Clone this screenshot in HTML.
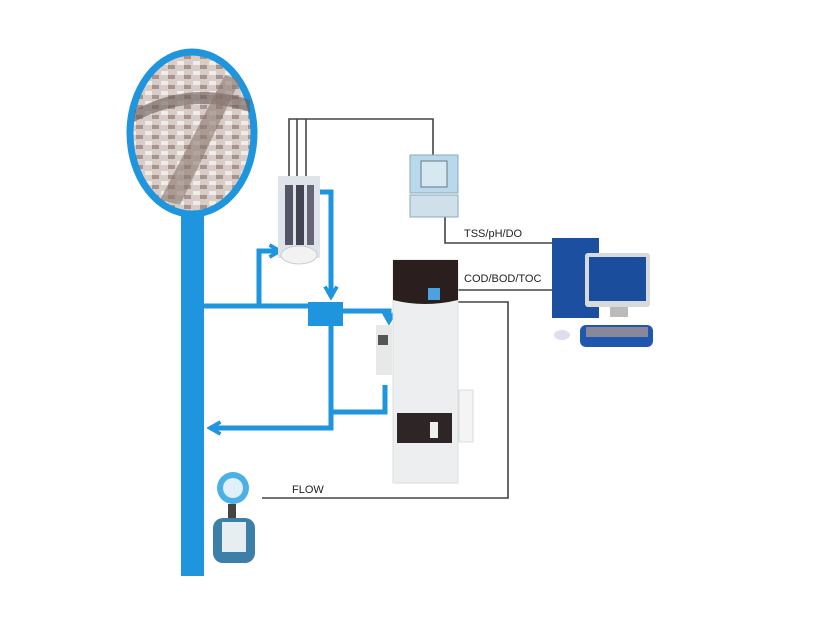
<!DOCTYPE html>
<html><head><style>
html,body{margin:0;padding:0;background:#fff;width:820px;height:636px;overflow:hidden}
svg{display:block}
text{font-family:"Liberation Sans",sans-serif;font-size:11px;fill:#222}
</style></head><body>
<svg width="820" height="636" viewBox="0 0 820 636" xmlns="http://www.w3.org/2000/svg">
<defs>
<pattern id="pl" width="16" height="10" patternUnits="userSpaceOnUse">
<rect width="16" height="10" fill="#d8ccc8"/><rect x="1" y="1" width="7" height="4" fill="#f0ecea"/><rect x="8" y="5" width="7" height="4" fill="#a8948c"/>
</pattern>
<marker id="ar" viewBox="0 0 10 10" refX="8" refY="5" markerWidth="3" markerHeight="3" orient="auto"><path d="M1,1 L8,5 L1,9" fill="none" stroke="#1e95dc" stroke-width="2.5"/></marker>
</defs>
<rect x="181" y="210" width="23" height="366" fill="#1e95dc"/>
<ellipse cx="192" cy="133" rx="62" ry="81" fill="url(#pl)" stroke="#1e95dc" stroke-width="7"/>
<path d="M135 110 Q190 80 250 100 L250 112 Q190 92 134 122Z" fill="#6a5a55" opacity=".6"/>
<path d="M160 200 L225 75 L240 80 L180 205Z" fill="#8a7870" opacity=".6"/>
<g fill="none" stroke="#1e95dc" stroke-width="5">
<path d="M204 306 H308"/>
<path d="M259 306 V251 H280" marker-end="url(#ar)"/>
<path d="M318 192 H331 V297" marker-end="url(#ar)"/>
<path d="M343 311 H389 V322" marker-end="url(#ar)"/>
<path d="M331 326 V428 H210" marker-end="url(#ar)"/>
<path d="M331 412 H385 V385"/>
</g>
<rect x="308" y="302" width="35" height="24" fill="#1e95dc"/>
<g fill="none" stroke="#444" stroke-width="1.6">
<path d="M289 176 V119 H433 V155"/>
<path d="M297 176 V119"/><path d="M306 176 V119"/>
<path d="M445 217 V243 H552"/>
<path d="M458 290 H552"/>
<path d="M458 302 H508 V498 H262"/>
</g>
<rect x="278" y="176" width="42" height="82" fill="#dfe4ea"/>
<rect x="285" y="185" width="8" height="60" fill="#556"/><rect x="296" y="185" width="8" height="60" fill="#445"/><rect x="307" y="185" width="7" height="60" fill="#667"/>
<ellipse cx="299" cy="255" rx="18" ry="9" fill="#f2f2f2" stroke="#ccc"/>
<rect x="410" y="155" width="48" height="38" fill="#b8d8ec" stroke="#8ab" />
<rect x="421" y="161" width="26" height="26" fill="#d8e8f0" stroke="#678"/>
<rect x="410" y="195" width="48" height="22" fill="#cfe0ea" stroke="#8ab"/>
<rect x="393" y="260" width="65" height="223" fill="#eceef0" stroke="#ddd"/>
<path d="M393 260 H458 V300 Q425 308 393 300Z" fill="#2a1e1e"/>
<rect x="428" y="288" width="12" height="12" fill="#4aa3e0"/>
<rect x="397" y="413" width="55" height="30" fill="#2e2626"/>
<rect x="430" y="422" width="8" height="16" fill="#eee"/>
<rect x="459" y="390" width="14" height="52" fill="#f4f4f4" stroke="#ddd"/>
<rect x="376" y="325" width="16" height="50" fill="#e8e8e8"/><rect x="378" y="335" width="10" height="10" fill="#555"/>
<rect x="552" y="238" width="47" height="80" fill="#1d4fa0"/>
<rect x="585" y="253" width="65" height="54" rx="3" fill="#d6dadd"/>
<rect x="589" y="257" width="57" height="44" fill="#1a4d9c"/>
<rect x="610" y="307" width="18" height="10" fill="#bbb"/>
<rect x="580" y="325" width="73" height="22" rx="6" fill="#1f57b0"/>
<rect x="586" y="327" width="62" height="10" fill="#889"/>
<ellipse cx="562" cy="335" rx="8" ry="5" fill="#dde"/>
<circle cx="233" cy="488" r="16" fill="#4bb0e6"/><circle cx="233" cy="488" r="10" fill="#e0f0f8"/>
<rect x="228" y="504" width="8" height="14" fill="#444"/>
<rect x="213" y="518" width="42" height="45" rx="10" fill="#3c7fa8"/>
<rect x="222" y="522" width="24" height="30" fill="#e6eef2"/>
<text x="464" y="237">TSS/pH/DO</text>
<text x="464" y="282">COD/BOD/TOC</text>
<text x="292" y="493">FLOW</text>
</svg>
</body></html>
